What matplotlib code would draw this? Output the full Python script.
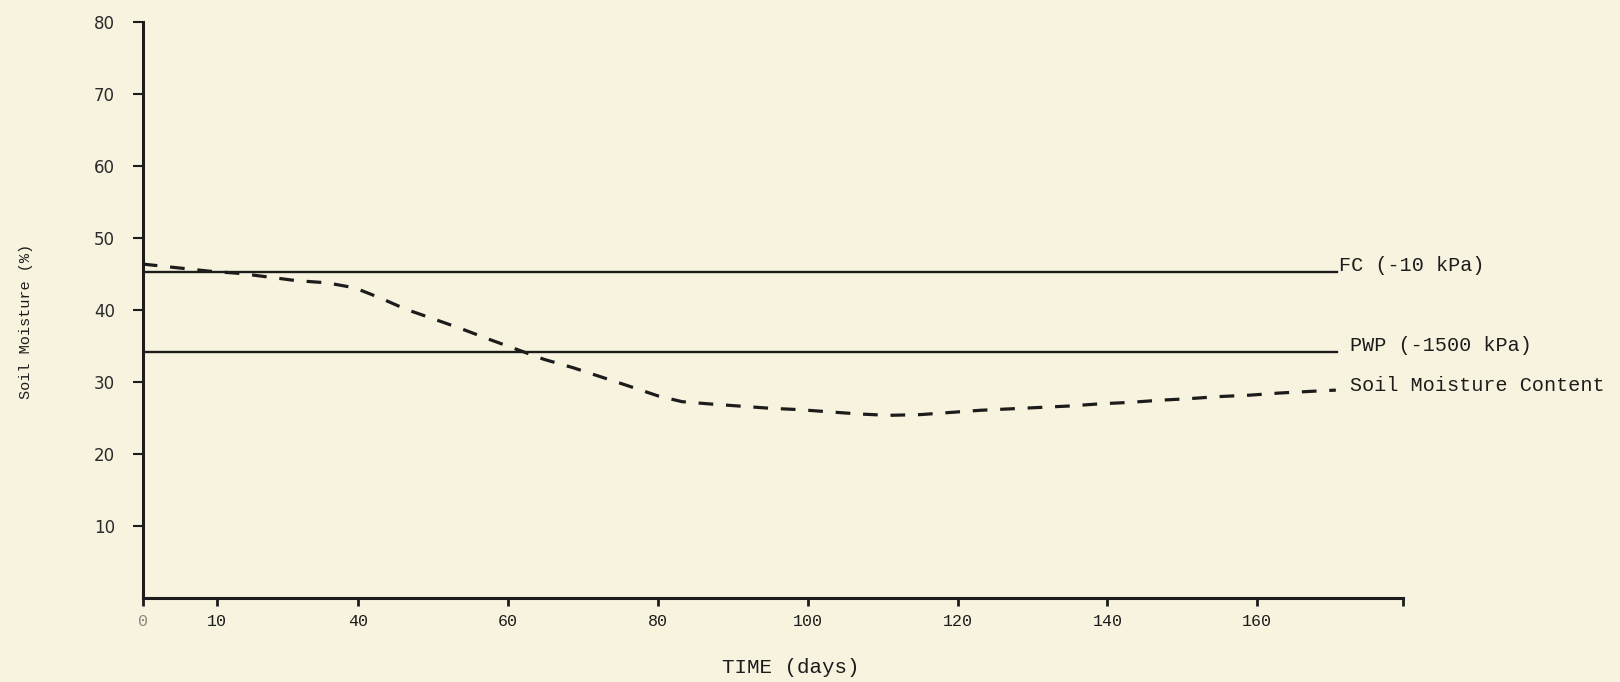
import matplotlib
matplotlib.use("Agg")
import matplotlib.pyplot as plt

# x positions are in days; the first two tick labels sit where the original puts them
X_TICK_POS = [11.2, 21.1, 40, 60, 80, 100, 120, 140, 160]
X_TICK_LABELS = ["0", "10", "40", "60", "80", "100", "120", "140", "160"]
Y_TICKS = [10, 20, 30, 40, 50, 60, 70, 80]

FC_LEVEL = 45.3
PWP_LEVEL = 34.2
LINE_START = 11.2
LINE_END = 170.6

days = [11.2, 16.6, 20.2, 24.2, 28.0, 31.7, 35.8, 39.5, 42.9, 46.4, 50.0,
        53.8, 57.6, 61.3, 64.7, 68.7, 72.5, 76.0, 80.0, 83.2, 86.7, 90.7,
        94.7, 98.7, 102.7, 106.7, 110.7, 115.0, 119.0, 123.0, 127.0, 131.0,
        135.0, 139.0, 143.0, 147.0, 150.7, 154.8, 159.0, 163.0, 168.4, 170.5]
moisture = [46.4, 45.8, 45.4, 45.1, 44.6, 44.1, 43.8, 43.1, 41.7, 40.1, 38.8,
            37.4, 35.9, 34.5, 33.2, 32.0, 30.7, 29.5, 28.1, 27.3, 27.0, 26.7,
            26.4, 26.2, 25.9, 25.6, 25.4, 25.5, 25.8, 26.1, 26.3, 26.5,
            26.7, 27.0, 27.2, 27.5, 27.7, 28.0, 28.2, 28.5, 28.8, 28.9]

BG = "#F8F3DE"
INK = "#1C1C1C"
MONO = "Liberation Mono"

fig, ax = plt.subplots(figsize=(16.2, 6.82), dpi=100)
fig.patch.set_facecolor(BG)
ax.set_facecolor(BG)
fig.subplots_adjust(left=0.0881, right=0.8662, bottom=0.1227, top=0.9677)

ax.plot([LINE_START, LINE_END], [FC_LEVEL, FC_LEVEL], color=INK, lw=1.7)
ax.plot([LINE_START, LINE_END], [PWP_LEVEL, PWP_LEVEL], color=INK, lw=1.7)
ax.plot(days, moisture, color=INK, lw=2.3, dashes=(4.6, 4.0))

ax.text(LINE_END + 0.3, FC_LEVEL + 0.9, "FC (-10 kPa)", family=MONO,
        fontsize=14.5, color=INK, va="center", ha="left")
ax.text(LINE_END + 1.8, PWP_LEVEL + 0.9, "PWP (-1500 kPa)", family=MONO,
        fontsize=14.5, color=INK, va="center", ha="left")
ax.text(LINE_END + 1.8, moisture[-1] + 0.6, "Soil Moisture Content", family=MONO,
        fontsize=14.5, color=INK, va="center", ha="left")

ax.set_xlim(11.2, 179.5)
ax.set_ylim(0, 80)

ax.set_xticks(X_TICK_POS)
ax.set_xticklabels(X_TICK_LABELS, family=MONO, fontsize=12, color=INK)
ax.get_xticklabels()[0].set_color("#8A8A80")
ax.set_xticks([179.5], minor=True)
ax.set_yticks(Y_TICKS)
ax.set_yticklabels([str(v) for v in Y_TICKS], fontsize=12, color="#2A2A2A")

ax.tick_params(axis="x", which="both", direction="out", length=6, width=2,
               color=INK, pad=5)
ax.tick_params(axis="y", direction="out", length=7, width=1.5, color=INK, pad=13)

for side in ("top", "right"):
    ax.spines[side].set_visible(False)
for side in ("left", "bottom"):
    ax.spines[side].set_color(INK)
    ax.spines[side].set_linewidth(2.2)

ax.set_xlabel("TIME (days)", family=MONO, fontsize=15, color=INK)
ax.xaxis.set_label_coords(0.514, -0.104)
ax.set_ylabel("Soil Moisture (%)", family=MONO, fontsize=11, color=INK)
ax.yaxis.set_label_coords(-0.087, 0.48)

plt.savefig("out.png", dpi=100, facecolor=BG)
plt.close()
